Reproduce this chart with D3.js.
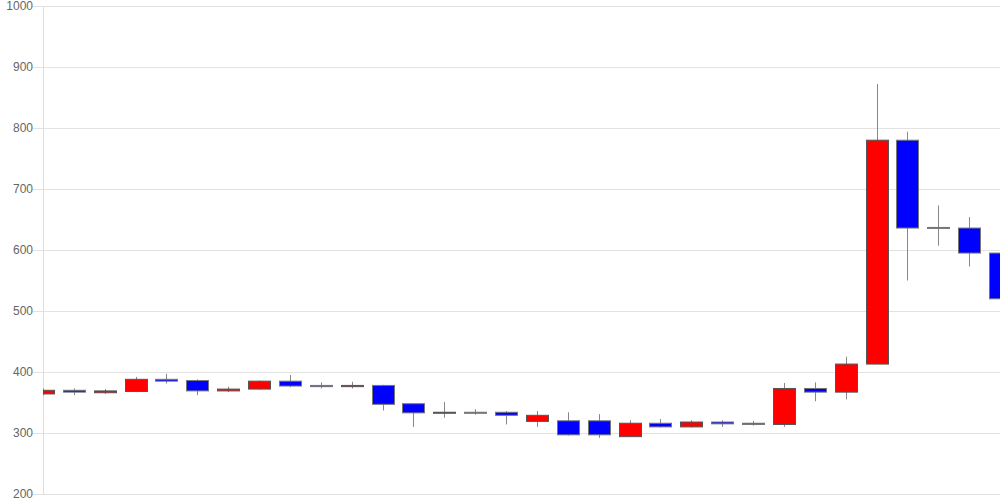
<!DOCTYPE html>
<html>
<head>
<meta charset="utf-8">
<script src="https://cdn.jsdelivr.net/npm/d3@7"></script>
<style>
    body { margin: 0; background: #fff; }
    svg { display: block; }
</style>
</head>
<body>
<div id="chart"></div>
<script>
// daily candles, oldest first
let opens  = [364, 370, 366, 368, 388, 386, 369, 372, 385, 378, 376, 378, 348, 333, 334, 334,
              319, 320, 320, 294, 316, 310, 318, 316, 314, 373, 367, 413, 780, 637, 636, 595]
let highs  = [373, 373, 372, 392, 397, 388, 376, 386, 395, 383, 384, 379, 348, 351, 339, 336,
              336, 334, 331, 321, 323, 321, 321, 320, 382, 383, 425, 872, 794, 673, 654, 595]
let lows   = [362, 362, 364, 367, 381, 362, 367, 371, 375, 373, 373, 337, 310, 325, 330, 314,
              310, 296, 292, 294, 309, 309, 310, 312, 310, 352, 355, 413, 550, 607, 573, 498]
let closes = [370, 367, 369, 388, 385, 369, 372, 385, 377, 376, 378, 347, 333, 334, 333, 329,
              329, 297, 297, 316, 310, 318, 315, 314, 373, 367, 413, 780, 636, 636, 595, 520]
let yTicks = [200, 300, 400, 500, 600, 700, 800, 900, 1000]

let width = 1000,
    height = 500,
    margin = { top: 6, right: 0, bottom: 6, left: 43 }

let candles = opens.map((o, i) => ({ i: i, open: o, high: highs[i], low: lows[i], close: closes[i] }))

let svg = d3.select("#chart")
    .append("svg")
    .attr("width", width)
    .attr("height", height)

let x = d3.scalePoint()
    .domain(candles.map(d => d.i))
    .range([margin.left, width - margin.right])

let y = d3.scaleLinear()
    .domain([200, 1000])
    .range([height - margin.bottom, margin.top])

let bodyW = 22

// grid + labels
let axis = svg.append("g")
    .attr("transform", `translate(${margin.left},0)`)
    .call(d3.axisLeft(y).tickValues(yTicks).tickFormat(d3.format("d")).tickSizeOuter(0).tickPadding(0))

axis.select(".domain").attr("stroke", "#ddd")
axis.selectAll(".tick line")
    .attr("x1", -10)
    .attr("x2", width - margin.left)
    .attr("stroke", "#e2e2e2")
axis.selectAll(".tick text")
    .attr("x", -10)
    .attr("fill", "#666")
    .style("font-family", "'Liberation Sans', Arial, sans-serif")
    .style("font-size", "12px")

svg.append("clipPath")
    .attr("id", "plot-clip")
    .append("rect")
    .attr("x", margin.left)
    .attr("y", 0)
    .attr("width", width - margin.left)
    .attr("height", height)

let plot = svg.append("g").attr("clip-path", "url(#plot-clip)")

// wicks
plot.selectAll("line.wick")
    .data(candles)
    .enter().append("line")
    .attr("class", "wick")
    .attr("x1", d => Math.round(x(d.i)) + 0.5)
    .attr("x2", d => Math.round(x(d.i)) + 0.5)
    .attr("y1", d => y(d.high))
    .attr("y2", d => y(d.low))
    .attr("stroke", "#888")
    .attr("stroke-width", 1)

// bodies
plot.selectAll("rect.body")
    .data(candles)
    .enter().append("rect")
    .attr("class", "body")
    .attr("x", d => Math.round(x(d.i) - bodyW / 2) + 0.5)
    .attr("y", d => y(Math.max(d.open, d.close)))
    .attr("width", bodyW)
    .attr("height", d => Math.max(1, Math.abs(y(d.open) - y(d.close))))
    .attr("fill", d => d.close > d.open ? "#ff0000" : "#0000ff")
    .attr("stroke", d => d.close > d.open ? "#555" : "#777")
    .attr("stroke-width", 1)
</script>
</body>
</html>
